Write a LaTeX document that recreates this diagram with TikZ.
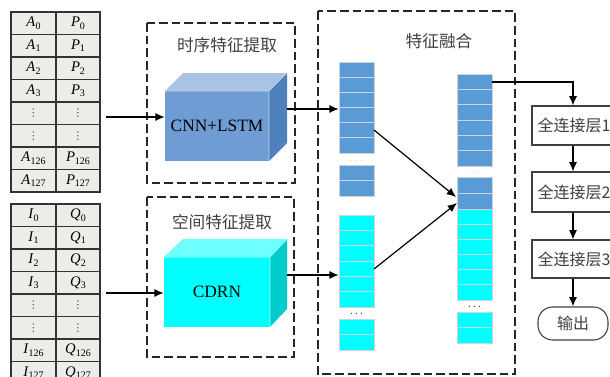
\documentclass[tikz,border=0pt]{standalone}
\usepackage{fontspec}
\setmainfont{Liberation Serif}
\newfontfamily\cjk{Noto Sans CJK SC}
\newfontfamily\djv{DejaVu Sans}
\usetikzlibrary{arrows.meta,fit,calc}
\definecolor{cellfill}{RGB}{238,236,233}
\definecolor{cubeTop}{RGB}{169,195,227}
\definecolor{cubeFront}{RGB}{111,156,211}
\definecolor{cubeSide}{RGB}{78,128,189}
\definecolor{cyTop}{RGB}{110,255,255}
\definecolor{cyFront}{RGB}{0,255,255}
\definecolor{cySide}{RGB}{0,204,204}
\definecolor{colblue}{RGB}{91,155,213}
\definecolor{cellline}{RGB}{205,212,220}
\definecolor{titlegray}{RGB}{64,64,64}
\newcommand{\tabv}[2]{\textit{#1}\raisebox{-0.35ex}{\fontsize{7.5}{8}\selectfont #2}}
\begin{document}
\begin{tikzpicture}[x=0.75pt,y=-0.75pt,
  arr/.style={-{Latex[length=7pt,width=6pt]}, line width=0.9pt},
  dbox/.style={draw=black!85, dash pattern=on 6.5pt off 3pt, line width=1pt},
  tcell/.style={draw=black!80, fill=cellfill, line width=0.8pt},
  tabtxt/.style={font=\fontsize{11}{12}\selectfont, inner sep=0pt},
  vdt/.style={font=\djv\fontsize{8}{9}\selectfont, text=black!70, inner sep=0pt},
  cjktitle/.style={font=\cjk\fontsize{12.5}{14}\selectfont, text=titlegray},
  fcbox/.style={draw=black!75, fill=white, line width=0.8pt, inner sep=0pt},
  cjkbox/.style={font=\cjk\fontsize{12}{14}\selectfont, text=titlegray},
  bcell/.style={fill=colblue, draw=cellline, line width=0.6pt},
  ccell/.style={fill=cyFront, draw=cellline, line width=0.6pt},
  graydots/.style={font=\fontsize{4}{5}\selectfont, text=gray, inner sep=0pt},
  blackdots/.style={font=\fontsize{8}{9}\selectfont, inner sep=0pt},
  cubetxt/.style={font=\fontsize{13}{15}\selectfont}
]
\useasboundingbox (0,0) rectangle (610,376);
\clip (0,0) rectangle (610,376);

% ---------- input tables ----------
\foreach \i in {0,...,7} {
  \draw[tcell] (11,{12+22.5*\i}) rectangle (56,{12+22.5*(\i+1)});
  \draw[tcell] (56,{12+22.5*\i}) rectangle (100,{12+22.5*(\i+1)});
  \draw[tcell] (11,{204+22.5*\i}) rectangle (56,{204+22.5*(\i+1)});
  \draw[tcell] (56,{204+22.5*\i}) rectangle (100,{204+22.5*(\i+1)});
}
\foreach \i/\s in {0/0,1/1,2/2,3/3,6/126,7/127} {
  \node[tabtxt] (a\i) at (33.5,{23.25+22.5*\i}) {\tabv{A}{\s}};
  \node[tabtxt] (p\i) at (78,{23.25+22.5*\i}) {\tabv{P}{\s}};
  \node[tabtxt] (ii\i) at (33.5,{215.25+22.5*\i}) {\tabv{I}{\s}};
  \node[tabtxt] (q\i) at (78,{215.25+22.5*\i}) {\tabv{Q}{\s}};
}
\foreach \i in {4,5} {
  \node[vdt] (av\i) at (33.5,{23.25+22.5*\i}) {⋮};
  \node[vdt] (pv\i) at (78,{23.25+22.5*\i}) {⋮};
  \node[vdt] (iv\i) at (33.5,{215.25+22.5*\i}) {⋮};
  \node[vdt] (qv\i) at (78,{215.25+22.5*\i}) {⋮};
}
\coordinate (t1o) at (106,117);
\coordinate (t2o) at (106,293);

% ---------- dashed frames ----------
\draw[dbox] (147,23) rectangle (295,183);
\draw[dbox] (147,197) rectangle (294,357);
\draw[dbox] (318,11) rectangle (515,374);
\node[cjktitle] (ttl1) at (227,45) {时序特征提取};
\node[cjktitle] (ttl2) at (222,222) {空间特征提取};
\node[cjktitle] (ttl3) at (439,41) {特征融合};

% ---------- cube 1 ----------
\fill[cubeTop] (165,91) -- (183,73) -- (287,73) -- (269,91) -- cycle;
\fill[cubeSide] (269,91) -- (287,73) -- (287,143) -- (269,161) -- cycle;
\node[fit={(165,91)(269,161)}, inner sep=0pt, fill=cubeFront] (cube1) {};
\draw[white!60!cubeFront, line width=0.5pt] (165,91) -- (269,91) -- (269,161) (269,91) -- (287,73);
\node[cubetxt] (cube1t) at (cube1.center) {CNN+LSTM};

% ---------- cube 2 ----------
\fill[cyTop] (164,257) -- (183,239) -- (287,239) -- (270,257) -- cycle;
\fill[cySide] (270,257) -- (287,239) -- (287,309) -- (270,327) -- cycle;
\node[fit={(164,257)(270,327)}, inner sep=0pt, fill=cyFront] (cube2) {};
\draw[white!60!cyFront, line width=0.5pt] (164,257) -- (270,257) -- (270,327) (270,257) -- (287,239);
\node[cubetxt] (cube2t) at (cube2.center) {CDRN};

\draw[arr] (t1o) -- (t1o -| cube1.west);
\draw[arr] (t2o) -- (t2o -| cube2.west);

% ---------- column 1 ----------
\foreach \k in {0,...,5} {
  \draw[bcell] (339,{62+15.17*\k}) rectangle (374,{62+15.17*(\k+1)});
  \draw[ccell] (339,{215+15.33*\k}) rectangle (374,{215+15.33*(\k+1)});
}
\foreach \k in {0,1} {
  \draw[bcell] (339,{165+15.5*\k}) rectangle (374,{165+15.5*(\k+1)});
  \draw[ccell] (339,{319+15.5*\k}) rectangle (374,{319+15.5*(\k+1)});
}
\node[graydots] (d1) at (356.5,161) {$\cdots$};
\node[blackdots] (d2) at (356.5,314) {$\cdots$};
\node[fit={(339,62)(374,153)}, inner sep=0pt] (col1b) {};
\node[fit={(339,215)(374,307)}, inner sep=0pt] (col1c) {};

% ---------- column 2 ----------
\foreach \k in {0,...,5} {
  \draw[bcell] (457,{74+15.33*\k}) rectangle (492,{74+15.33*(\k+1)});
  \draw[ccell] (457,{209+15.17*\k}) rectangle (492,{209+15.17*(\k+1)});
}
\foreach \k in {0,1} {
  \draw[bcell] (457,{177+16*\k}) rectangle (492,{177+16*(\k+1)});
  \draw[ccell] (457,{312+15.5*\k}) rectangle (492,{312+15.5*(\k+1)});
}
\node[graydots] (d3) at (474.5,173) {$\cdots$};
\node[blackdots] (d4) at (474.5,307) {$\cdots$};
\node[fit={(457,74)(492,166)}, inner sep=0pt] (col2b) {};
\node[fit={(457,193)(492,209)}, inner sep=0pt] (col2m) {};

% cube -> column arrows
\coordinate (c1o) at (287,109);
\coordinate (c2o) at (287,275);
\draw[arr] (c1o) -- (c1o -| col1b.west);
\draw[arr] (c2o) -- (c2o -| col1c.west);

% column1 -> column2
\coordinate (s1) at (374,130);
\coordinate (s2) at (374,269);
\coordinate (e1) at (456,197);
\coordinate (e2) at (457,203);
\draw[arr] (s1) -- (e1);
\draw[arr] (s2) -- (e2);

% ---------- fully connected ----------
\node[fcbox, fit={(532,106)(616,145)}] (fc1) {};
\node[fcbox, fit={(532,172)(616,212)}] (fc2) {};
\node[fcbox, fit={(532,240)(616,278)}] (fc3) {};
\node[cjkbox] (fc1t) at (fc1.center) {全连接层1};
\node[cjkbox] (fc2t) at (fc2.center) {全连接层2};
\node[cjkbox] (fc3t) at (fc3.center) {全连接层3};
\node[fcbox, fit={(538,307)(608,340)}, rounded corners=11pt] (out) {};
\node[cjkbox] (outt) at (out.center) {输出};

\coordinate (o1) at (492,82);
\draw[arr] (o1) -- (o1 -| out.north) -- (out.north |- fc1.north);
\draw[arr] (fc1.south -| out.north) -- (fc2.north -| out.north);
\draw[arr] (fc2.south -| out.north) -- (fc3.north -| out.north);
\draw[arr] (fc3.south -| out.north) -- (out.north);
\end{tikzpicture}
\end{document}
